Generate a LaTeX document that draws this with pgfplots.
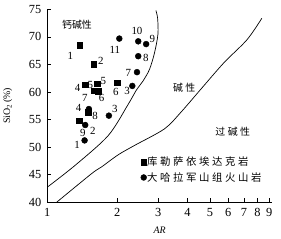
\documentclass[border=0pt]{standalone}
\usepackage{fontspec}
\setmainfont{Liberation Serif}
\newfontfamily\cjk{Noto Sans CJK SC}
\newfontfamily\cjksp[LetterSpace=25]{Noto Sans CJK SC}
\usepackage{pgfplots}
\pgfplotsset{compat=1.18}
\pgfplotsset{onemark/.style={legend image code/.code={\draw[##1] plot coordinates {(0pt,0pt)};}}}
\begin{document}
\begin{tikzpicture}
\begin{axis}[name=ax, scale only axis, width=227pt, height=194.5pt,
  xmode=log, xmin=1, xmax=9.25, ymin=40, ymax=75,
  axis x line*=bottom, axis y line*=left,
  axis line style={-, line width=0.6pt},
  xtick={1,2,3,4,5,6,7,8,9}, xticklabels={1,2,3,4,5,6,7,8,9},
  xminorticks=false,
  ytick={40,45,...,75},
  tick align=inside, major tick length=4pt,
  tick style={line width=0.6pt, black},
  /pgf/number format/assume math mode=true,
  ticklabel style={font=\fontsize{12.5}{14}\selectfont},
  xticklabel style={yshift=-2.5pt}, yticklabel style={xshift=-2.5pt},
  xlabel={\textit{AR}}, ylabel={SiO\textsubscript{2}\,(\%)},
  label style={font=\fontsize{12.5}{14}\selectfont},
  every axis x label/.style={at={(axis description cs:0.5,-0.146)},anchor=center},
  every axis y label/.style={at={(axis description cs:-0.14,0.5)},rotate=90,anchor=south},
  clip=false,
  legend style={draw=none, fill=none, at={(axis description cs:0.415,0.167)}, anchor=west,
    inner sep=0pt, row sep=4pt, font=\cjksp\fontsize{10.5}{12}\selectfont,
    nodes={inner sep=0.5pt},
    /tikz/every even column/.append style={column sep=3pt}},
  legend cell align=left,
]
% boundary curves
\addplot[black, line width=0.7pt, smooth, tension=0.5, forget plot] coordinates {
 (1.0,42.7) (1.32,46.7) (1.83,52.1) (2.23,57.8) (2.42,60.4) (2.58,62.0) (2.75,64.1)
 (2.89,67.1) (2.99,70.5) (2.98,73.4) (2.93,74.8)};
\addplot[black, line width=0.7pt, smooth, tension=0.5, forget plot] coordinates {
 (1.10,40.0) (1.555,45.2) (1.714,46.4) (2.02,48.6) (2.375,50.3) (3.19,53.3) (3.75,56.3)
 (4.57,60.5) (5.74,65.3) (7.22,69.5) (8.36,73.4)};
% data
\addplot[only marks, mark=square*, mark size=2.8pt, black, onemark] coordinates {
 (1.38,68.5) (1.58,65.0) (1.456,61.3) (1.64,61.5) (1.595,60.2) (1.66,60.1)
 (2.0,61.7) (1.50,56.3) (1.372,54.8)};
\addlegendentry{库勒萨依埃达克岩}
\addplot[only marks, mark=*, mark size=3pt, black, onemark] coordinates {
 (2.04,69.7) (2.46,69.2) (2.66,68.7) (2.46,66.5) (2.43,63.6) (2.32,61.1)
 (1.84,55.7) (1.51,56.9) (1.456,54.0) (1.447,51.2)};
\addlegendentry{大哈拉军山组火山岩}
% point labels
\begin{scope}[every node/.style={font=\fontsize{11}{12}\selectfont, inner sep=0pt}]
\node at (axis cs:1.256,66.5) {1};
\node at (axis cs:1.70,65.7) {2};
\node at (axis cs:1.35,60.8) {4};
\node at (axis cs:1.53,61.2) {5};
\node at (axis cs:1.743,62.0) {5};
\node at (axis cs:1.45,58.9) {7};
\node at (axis cs:1.714,58.9) {6};
\node at (axis cs:1.97,60.0) {6};
\node at (axis cs:1.605,55.7) {8};
\node at (axis cs:1.953,67.7) {11};
\node at (axis cs:2.43,71.0) {10};
\node at (axis cs:2.83,69.7) {9};
\node at (axis cs:2.65,66.2) {8};
\node at (axis cs:2.23,63.5) {7};
\node at (axis cs:2.205,60.2) {3};
\node at (axis cs:1.953,56.9) {3};
\node at (axis cs:1.364,57.1) {4};
\node at (axis cs:1.423,52.6) {9};
\node at (axis cs:1.57,53.0) {2};
\node at (axis cs:1.342,50.3) {1};
\end{scope}
\node[font=\cjk\fontsize{10}{11}\selectfont] at (axis cs:1.342,72.2) {钙碱性};
\node[font=\cjksp\fontsize{10}{11}\selectfont] at (axis cs:3.88,60.8) {碱性};
\node[font=\cjksp\fontsize{10}{11}\selectfont] at (axis cs:6.27,52.7) {过碱性};
\end{axis}
\path ([shift={(-45pt,-37pt)}]ax.south west) rectangle ([shift={(236pt,204pt)}]ax.south west);
\end{tikzpicture}
\end{document}
